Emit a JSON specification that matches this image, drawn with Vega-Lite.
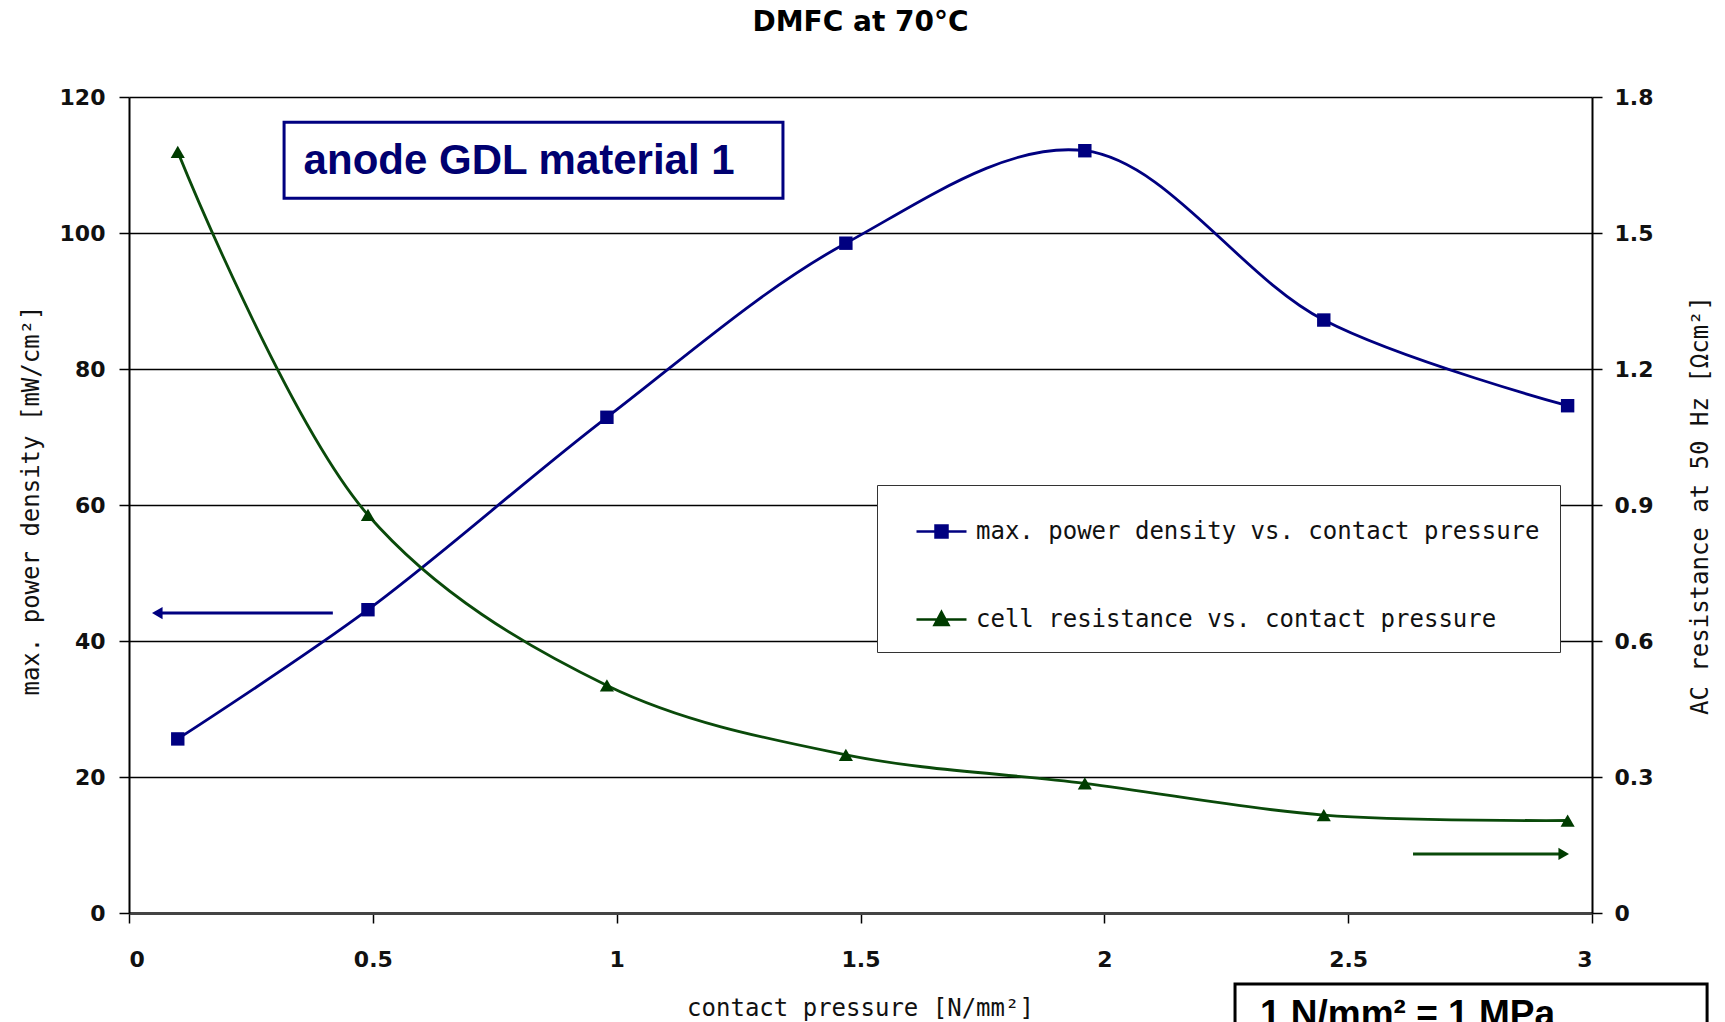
{
  "$schema": "https://vega.github.io/schema/vega-lite/v6.json",
  "autosize": {"type": "none"},
  "padding": {"left": 129, "top": 97, "right": 133, "bottom": 109},
  "width": 1463,
  "height": 816,
  "background": "white",
  "title": {
    "text": "DMFC at 70°C",
    "anchor": "middle",
    "frame": "group",
    "baseline": "bottom",
    "offset": 21,
    "font": "DejaVu Sans",
    "fontSize": 28,
    "fontWeight": "bold",
    "color": "#000"
  },
  "config": {
    "view": {"stroke": null},
    "axis": {
      "labelFont": "DejaVu Sans",
      "labelFontSize": 22,
      "labelFontWeight": "bold",
      "labelColor": "#111",
      "titleFont": "DejaVu Sans Mono",
      "titleFontSize": 24,
      "titleFontWeight": "normal",
      "titleColor": "#111",
      "domainColor": "#000",
      "domainWidth": 2,
      "tickColor": "#000",
      "tickWidth": 1.5,
      "tickSize": 10
    },
    "legend": {
      "labelFont": "DejaVu Sans Mono",
      "labelFontSize": 24,
      "labelColor": "#111",
      "labelLimit": 1000
    }
  },
  "datasets": {
    "curves": [
      {"series": "max. power density vs. contact pressure", "pressure": 0.10, "value": 25.6},
      {"series": "max. power density vs. contact pressure", "pressure": 0.49, "value": 44.6},
      {"series": "max. power density vs. contact pressure", "pressure": 0.98, "value": 72.9},
      {"series": "max. power density vs. contact pressure", "pressure": 1.47, "value": 98.5},
      {"series": "max. power density vs. contact pressure", "pressure": 1.96, "value": 112.1},
      {"series": "max. power density vs. contact pressure", "pressure": 2.45, "value": 87.2},
      {"series": "max. power density vs. contact pressure", "pressure": 2.95, "value": 74.6},
      {"series": "cell resistance vs. contact pressure", "pressure": 0.10, "value": 1.679},
      {"series": "cell resistance vs. contact pressure", "pressure": 0.49, "value": 0.878},
      {"series": "cell resistance vs. contact pressure", "pressure": 0.98, "value": 0.502},
      {"series": "cell resistance vs. contact pressure", "pressure": 1.47, "value": 0.349},
      {"series": "cell resistance vs. contact pressure", "pressure": 1.96, "value": 0.286},
      {"series": "cell resistance vs. contact pressure", "pressure": 2.45, "value": 0.216},
      {"series": "cell resistance vs. contact pressure", "pressure": 2.95, "value": 0.204}
    ]
  },
  "data": {"name": "curves"},
  "layer": [
    {
      "layer": [
        {
          "transform": [{"filter": "datum.series === 'max. power density vs. contact pressure'"}],
          "mark": {"type": "line", "interpolate": "catmull-rom", "color": "#000080", "strokeWidth": 2.8},
          "encoding": {
            "x": {
              "field": "pressure", "type": "quantitative",
              "scale": {"domain": [0, 3], "nice": false, "zero": false},
              "axis": {
                "orient": "bottom",
                "values": [0, 0.5, 1, 1.5, 2, 2.5, 3],
                "format": "~g",
                "grid": false,
                "domainColor": "#444",
                "domainWidth": 3,
                "labelPadding": 26,
                "title": "contact pressure [N/mm²]",
                "titleX": 731,
                "titleY": 95,
                "titleAlign": "center",
                "titleBaseline": "middle"
              }
            },
            "y": {
              "field": "value", "type": "quantitative",
              "scale": {"domain": [0, 120], "nice": false},
              "axis": {
                "orient": "left",
                "values": [0, 20, 40, 60, 80, 100, 120],
                "grid": true,
                "gridColor": "#000",
                "gridWidth": 1.5,
                "gridOpacity": 1,
                "labelPadding": 14,
                "title": "max. power density [mW/cm²]",
                "titleAngle": 270,
                "titleX": -98,
                "titleY": 403,
                "titleAlign": "center",
                "titleBaseline": "middle"
              }
            }
          }
        },
        {
          "transform": [{"filter": "datum.series === 'max. power density vs. contact pressure'"}],
          "mark": {"type": "point", "shape": "square", "filled": true, "color": "#000080", "size": 180, "opacity": 1},
          "encoding": {
            "x": {"field": "pressure", "type": "quantitative"},
            "y": {"field": "value", "type": "quantitative"}
          }
        },
        {
          "mark": {"type": "point", "opacity": 0},
          "encoding": {
            "x": {"field": "pressure", "type": "quantitative"},
            "y": {"field": "value", "type": "quantitative"},
            "fill": {
              "field": "series", "type": "nominal",
              "scale": {"domain": ["max. power density vs. contact pressure", "cell resistance vs. contact pressure"], "range": ["#000080", "#003c00"]},
              "legend": null
            },
            "stroke": {
              "field": "series", "type": "nominal",
              "scale": {"domain": ["max. power density vs. contact pressure", "cell resistance vs. contact pressure"], "range": ["#000080", "#003c00"]},
              "legend": null
            },
            "shape": {
              "field": "series", "type": "nominal",
              "scale": {
                "domain": ["max. power density vs. contact pressure", "cell resistance vs. contact pressure"],
                "range": ["M-0.28,0H1.72M0.48,-0.24H0.96V0.24H0.48Z", "M-0.28,0H1.72M0.72,-0.3L1.0,0.22H0.44Z"]
              },
              "legend": {
                "title": null,
                "orient": "none",
                "legendX": 748,
                "legendY": 388,
                "direction": "vertical",
                "padding": 20,
                "strokeColor": "#333",
                "fillColor": "white",
                "symbolSize": 2500,
                "symbolStrokeWidth": 2.5,
                "symbolOpacity": 1,
                "labelOffset": 26,
                "rowPadding": 49,
                "encode": {
                  "symbols": {
                    "update": {
                      "opacity": {"value": 1},
                      "fill": {"scale": "fill", "field": "value"},
                      "stroke": {"scale": "stroke", "field": "value"},
                      "strokeWidth": {"value": 2.5}
                    }
                  }
                }
              }
            }
          }
        },
        {
          "data": {"values": [{}]},
          "mark": {"type": "rect", "fill": "white", "fillOpacity": 0, "stroke": "#000080", "strokeWidth": 3},
          "encoding": {
            "x": {"datum": 0.318, "type": "quantitative"},
            "x2": {"datum": 1.341},
            "y": {"datum": 116.3, "type": "quantitative"},
            "y2": {"datum": 105.1}
          }
        },
        {
          "data": {"values": [{}]},
          "mark": {"type": "text", "text": "anode GDL material 1", "font": "Liberation Sans", "fontWeight": "bold", "fontSize": 42, "color": "#000070", "align": "center", "baseline": "middle"},
          "encoding": {
            "x": {"datum": 0.8, "type": "quantitative"},
            "y": {"datum": 110.6, "type": "quantitative"}
          }
        },
        {
          "data": {"values": [{}]},
          "mark": {"type": "rule", "color": "#000080", "strokeWidth": 3},
          "encoding": {
            "x": {"datum": 0.418, "type": "quantitative"},
            "x2": {"datum": 0.06},
            "y": {"datum": 44.1, "type": "quantitative"}
          }
        },
        {
          "data": {"values": [{}]},
          "mark": {"type": "point", "shape": "triangle-left", "filled": true, "color": "#000080", "size": 150, "opacity": 1},
          "encoding": {
            "x": {"datum": 0.058, "type": "quantitative"},
            "y": {"datum": 44.1, "type": "quantitative"}
          }
        },
        {
          "data": {"values": [{}]},
          "mark": {"type": "rule", "color": "#0a4a0a", "strokeWidth": 3},
          "encoding": {
            "x": {"datum": 2.633, "type": "quantitative"},
            "x2": {"datum": 2.94},
            "y": {"datum": 8.68, "type": "quantitative"}
          }
        },
        {
          "data": {"values": [{}]},
          "mark": {"type": "point", "shape": "triangle-right", "filled": true, "color": "#003c00", "size": 150, "opacity": 1},
          "encoding": {
            "x": {"datum": 2.942, "type": "quantitative"},
            "y": {"datum": 8.68, "type": "quantitative"}
          }
        },
        {
          "data": {"values": [{}]},
          "mark": {"type": "rect", "fill": "white", "stroke": "#000", "strokeWidth": 3},
          "encoding": {
            "x": {"datum": 2.268, "type": "quantitative"},
            "x2": {"datum": 3.236},
            "y": {"datum": -10.44, "type": "quantitative"},
            "y2": {"datum": -20}
          }
        },
        {
          "data": {"values": [{}]},
          "mark": {"type": "text", "text": "1 N/mm² = 1 MPa", "font": "Liberation Sans", "fontWeight": "bold", "fontSize": 37, "color": "#000", "align": "left", "baseline": "alphabetic"},
          "encoding": {
            "x": {"datum": 2.319, "type": "quantitative"},
            "y": {"datum": -16.6, "type": "quantitative"}
          }
        }
      ]
    },
    {
      "transform": [{"filter": "datum.series === 'cell resistance vs. contact pressure'"}],
      "layer": [
        {
          "mark": {"type": "line", "interpolate": "catmull-rom", "color": "#0a4a0a", "strokeWidth": 2.8},
          "encoding": {
            "x": {"field": "pressure", "type": "quantitative"},
            "y": {
              "field": "value", "type": "quantitative",
              "scale": {"domain": [0, 1.8], "nice": false},
              "axis": {
                "orient": "right",
                "values": [0, 0.3, 0.6, 0.9, 1.2, 1.5, 1.8],
                "format": "~g",
                "grid": false,
                "labelPadding": 12,
                "title": "AC resistance at 50 Hz [Ωcm²]",
                "titleAngle": 270,
                "titleX": 108,
                "titleY": 408,
                "titleAlign": "center",
                "titleBaseline": "middle"
              }
            }
          }
        },
        {
          "mark": {"type": "point", "shape": "triangle-up", "filled": true, "color": "#003c00", "size": 200, "opacity": 1},
          "encoding": {
            "x": {"field": "pressure", "type": "quantitative"},
            "y": {"field": "value", "type": "quantitative"}
          }
        }
      ]
    }
  ],
  "resolve": {"scale": {"y": "independent"}}
}
